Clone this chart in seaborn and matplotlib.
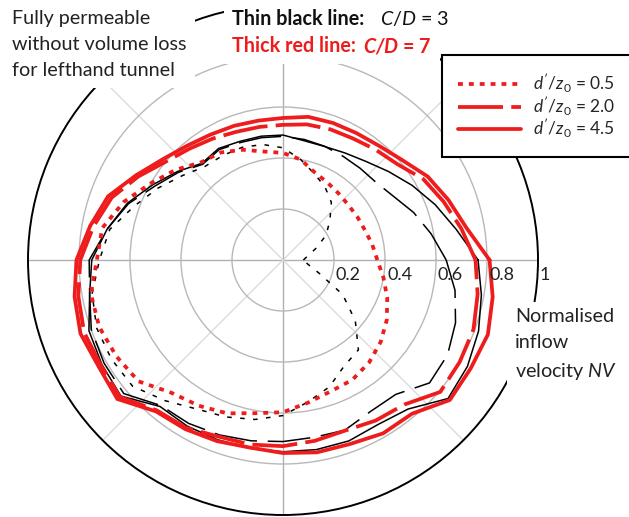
import numpy as np
import pandas as pd
import matplotlib
matplotlib.use("Agg")
import matplotlib.pyplot as plt
import seaborn as sns
from matplotlib.lines import Line2D

# ---------------- data ----------------
angle_deg = np.arange(0, 360, 10)

r_red_solid = [0.81, 0.73, 0.69, 0.655, 0.61, 0.585, 0.575, 0.572, 0.57, 0.557,
               0.555, 0.56, 0.568, 0.585, 0.615, 0.665, 0.73, 0.768, 0.81, 0.83,
               0.845, 0.835, 0.848, 0.775, 0.766, 0.756, 0.747, 0.757, 0.766, 0.768,
               0.785, 0.787, 0.854, 0.85, 0.855, 0.835]
r_red_dashed = [0.755, 0.71, 0.67, 0.635, 0.585, 0.565, 0.55, 0.545, 0.54, 0.53,
                0.53, 0.535, 0.55, 0.57, 0.60, 0.655, 0.715, 0.755, 0.795, 0.815,
                0.83, 0.825, 0.835, 0.77, 0.76, 0.737, 0.735, 0.73, 0.72, 0.712,
                0.727, 0.74, 0.805, 0.80, 0.795, 0.775]
r_red_dotted = [0.37, 0.355, 0.342, 0.337, 0.335, 0.34, 0.35, 0.365, 0.40, 0.42,
                0.432, 0.46, 0.487, 0.50, 0.55, 0.60, 0.665, 0.72, 0.73, 0.765,
                0.767, 0.755, 0.74, 0.68, 0.66, 0.64, 0.61, 0.597, 0.568, 0.548,
                0.543, 0.525, 0.50, 0.47, 0.435, 0.40]
r_black_solid = [0.765, 0.69, 0.635, 0.585, 0.54, 0.505, 0.485, 0.474, 0.475, 0.49,
                 0.493, 0.495, 0.505, 0.495, 0.54, 0.59, 0.65, 0.70, 0.75, 0.77,
                 0.81, 0.82, 0.83, 0.75, 0.752, 0.75, 0.75, 0.752, 0.755, 0.755,
                 0.745, 0.763, 0.845, 0.835, 0.816, 0.79]
r_black_dashed = [0.64, 0.59, 0.545, 0.50, 0.475, 0.47, 0.47, 0.475, 0.48, 0.485,
                  0.487, 0.49, 0.50, 0.49, 0.535, 0.58, 0.645, 0.70, 0.76, 0.77,
                  0.80, 0.81, 0.815, 0.745, 0.74, 0.73, 0.72, 0.712, 0.706, 0.71,
                  0.686, 0.688, 0.75, 0.745, 0.72, 0.685]
r_black_dotted = [0.08, 0.10, 0.14, 0.195, 0.24, 0.295, 0.33, 0.36, 0.40, 0.44,
                  0.46, 0.47, 0.473, 0.478, 0.515, 0.565, 0.62, 0.69, 0.72, 0.76,
                  0.778, 0.777, 0.77, 0.72, 0.675, 0.655, 0.635, 0.61, 0.565, 0.53,
                  0.48, 0.46, 0.37, 0.27, 0.15, 0.10]

ring_values = [0.2, 0.4, 0.6, 0.8]
ring_labels = ["0.2", "0.4", "0.6", "0.8", "1"]
legend_labels = [r"$d'/z_0$ = 0.5", r"$d'/z_0$ = 2.0", r"$d'/z_0$ = 4.5"]

# ---------------- styling ----------------
RED = "#ee1c1c"
W, H = 629, 517
sns.set_style("white")
plt.rcParams["font.family"] = ["Lato", "DejaVu Sans"]
plt.rcParams["mathtext.fontset"] = "custom"
plt.rcParams["mathtext.rm"] = "Lato"
plt.rcParams["mathtext.it"] = "Lato:italic"
plt.rcParams["mathtext.bf"] = "Lato:bold"
plt.rcParams["mathtext.bfit"] = "Lato:bold:italic"

fig = plt.figure(figsize=(W / 100, H / 100), dpi=100)
cx, cy, R = 283, 260, 255
ax = fig.add_axes([(cx - R) / W, (H - cy - R) / H, 2 * R / W, 2 * R / H],
                  projection="polar")
ax.set_ylim(0, 1)
ax.set_rticks(ring_values)
ax.set_yticklabels([])
ax.set_thetagrids(np.arange(0, 360, 45), labels=[""] * 8)
ax.tick_params(length=0)
for gl in ax.yaxis.get_gridlines():
    gl.set_color("#b8b8b8"); gl.set_linewidth(1.0); gl.set_linestyle("-")
for i, gl in enumerate(ax.xaxis.get_gridlines()):
    gl.set_linestyle("-"); gl.set_linewidth(1.0)
    gl.set_color("#b0b0b0" if i % 2 == 0 else "#dcdcdc")
ax.spines["polar"].set_color("black")
ax.spines["polar"].set_linewidth(1.4)

series = [
    (r_black_dotted, "black", 1.1, (0, (3.0, 5.5))),
    (r_black_dashed, "black", 1.1, (0, (28, 7))),
    (r_black_solid, "black", 1.1, "-"),
    (r_red_dotted, RED, 2.7, (0, (1.3, 1.6))),
    (r_red_dashed, RED, 2.7, (0, (12, 2.2))),
    (r_red_solid, RED, 2.7, "-"),
]
for r, col, lw, ls in series:
    df = pd.DataFrame({"theta": np.deg2rad(np.r_[angle_deg, angle_deg[0]]),
                       "r": np.r_[r, r[0]]})
    sns.lineplot(data=df, x="theta", y="r", sort=False, estimator=None, ax=ax,
                 color=col, linewidth=lw, linestyle=ls, legend=False)
ax.set_xlabel(""); ax.set_ylabel("")

for val, lab in zip(ring_values + [1.0], ring_labels):
    ax.annotate(lab, xy=(0, val), xytext=(2, -7), textcoords="offset pixels",
                ha="left", va="top", fontsize=13, color="#222222")

# ---------------- legend ----------------
handles = [Line2D([], [], color=RED, lw=2.7, linestyle=(0, (1.3, 1.6))),
           Line2D([], [], color=RED, lw=2.7, linestyle=(0, (12, 2.2))),
           Line2D([], [], color=RED, lw=2.7, linestyle="-")]
leg = ax.legend(handles, legend_labels, loc="upper left",
                bbox_to_anchor=(442 / W, 1 - 55 / H), bbox_transform=fig.transFigure,
                borderaxespad=0, frameon=True, fancybox=False, framealpha=1,
                edgecolor="black", fontsize=12.5, handlelength=3.6,
                handletextpad=0.7, labelspacing=-0.05, borderpad=0.95)
leg.get_frame().set_linewidth(1.5)

# ---------------- annotations ----------------
wbox = dict(facecolor="white", edgecolor="none", pad=6)
fig.text(12 / W, 1 - 10 / H, "Fully permeable\nwithout volume loss\nfor lefthand tunnel",
         ha="left", va="top", fontsize=14.2, linespacing=1.66, color="#222222", bbox=wbox)
fig.text(232 / W, 1 - 25 / H, "Thin black line:", ha="left", va="baseline",
         fontsize=14.2, weight="bold", color="#111111", bbox=wbox)
fig.text(380 / W, 1 - 25 / H, r"$C/D$ = 3", ha="left", va="baseline",
         fontsize=14.2, color="#111111", bbox=wbox)
fig.text(232 / W, 1 - 52 / H, "Thick red line:", ha="left", va="baseline",
         fontsize=14.2, weight="bold", color=RED, bbox=wbox)
fig.text(363 / W, 1 - 52 / H, r"$\mathbfit{C/D}$ = 7", ha="left", va="baseline",
         fontsize=14.2, weight="bold", color=RED, bbox=wbox)
fig.text(515 / W, 1 - 308 / H, "Normalised\ninflow\nvelocity $NV$",
         ha="left", va="top", fontsize=14.2, linespacing=1.62, color="#222222", bbox=wbox)

fig.savefig("out.png", dpi=100)
